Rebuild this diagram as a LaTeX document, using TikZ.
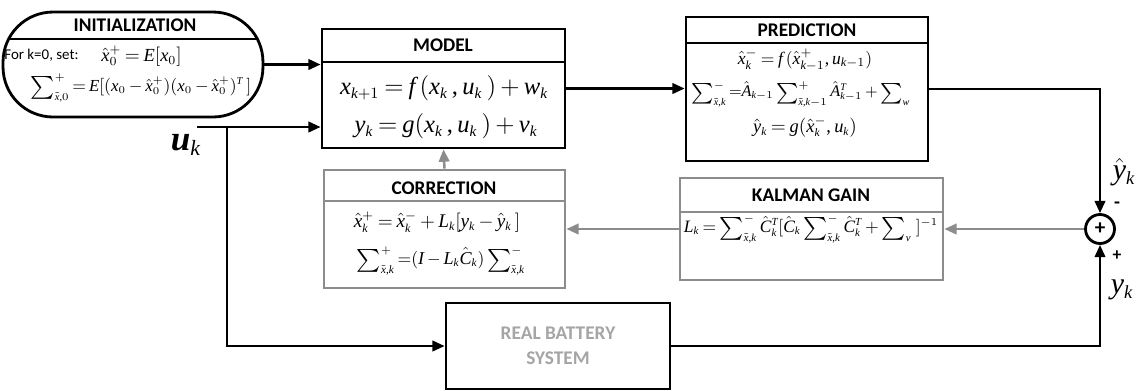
\documentclass[tikz,border=0pt]{standalone}
\usepackage{amsmath}
\usepackage{graphicx}
\usepackage{fontspec}
\setmainfont{Liberation Serif}
\newfontfamily\carl{Carlito}
\newfontfamily\libser[NFSSFamily=libser]{Liberation Serif}
\DeclareSymbolFont{letters}{TU}{libser}{m}{it}
\SetSymbolFont{letters}{bold}{TU}{libser}{b}{it}
\AtBeginDocument{\mathcode`\,="602C}
\renewcommand\defaultscriptratio{.62}
\newcommand\Sum{\mathop{\raisebox{-.3ex}{\scalebox{1.3}{$\textstyle\sum$}}}\nolimits}
\newcommand\eqsp{\thickmuskip=3.5mu plus 1mu\medmuskip=3mu plus 1mu}
\usetikzlibrary{arrows.meta,calc}
\definecolor{boxgray}{RGB}{140,140,140}
\definecolor{txtgray}{RGB}{165,165,165}
\begin{document}
\begin{tikzpicture}[x=0.02cm,y=-0.02cm,
  bbox/.style={draw=black, line width=1.6pt, inner sep=0pt},
  gbox/.style={draw=boxgray, line width=1.6pt, inner sep=0pt},
  ttl/.style={font=\carl\bfseries\fontsize{11}{13}\selectfont, inner sep=0pt},
  eq/.style={inner sep=0pt},
  arr/.style={line width=1.4pt, -{Triangle[length=7pt,width=6pt]}},
  garr/.style={line width=1.4pt, draw=boxgray, -{Triangle[length=7pt,width=6pt]}, boxgray}]
\useasboundingbox (0,0) rectangle (1143,390);

% boxes
\node[bbox, rounded corners=1cm, minimum width=5.2cm, minimum height=2.1cm] (init) at (133,64.5) {};
\node[bbox, minimum width=4.86cm, minimum height=2.38cm] (model) at (443.5,88.5) {};
\node[bbox, minimum width=4.84cm, minimum height=2.88cm] (pred) at (807,89) {};
\node[gbox, minimum width=4.82cm, minimum height=2.36cm] (corr) at (444.5,229) {};
\node[gbox, minimum width=5.26cm, minimum height=2.04cm] (kal) at (811.5,229) {};
\node[bbox, minimum width=4.48cm, minimum height=1.72cm] (batt) at (558,346) {};
\node[draw, circle, line width=1.6pt, minimum size=0.58cm, inner sep=0pt, font=\carl\bfseries\fontsize{12}{12}\selectfont] (sum) at (1100,229) {+};

% dividers
\draw[line width=1pt] (9,39) -- (257,39);
\draw[line width=1pt] (model.west |- 0,62) -- (model.east |- 0,62);
\draw[line width=1pt] (pred.west |- 0,43) -- (pred.east |- 0,43);
\draw[line width=1pt, boxgray] (corr.west |- 0,201) -- (corr.east |- 0,201);
\draw[line width=1pt, boxgray] (kal.west |- 0,212) -- (kal.east |- 0,212);

% titles
\node[ttl] (initT) at (135,25) {INITIALIZATION};
\node[ttl] (modelT) at (443,45) {MODEL};
\node[ttl] (predT) at (807,30) {PREDICTION};
\node[ttl] (corrT) at (444,188) {CORRECTION};
\node[ttl] (kalT) at (811,195) {KALMAN GAIN};
\node[ttl, text=txtgray, align=center, font=\carl\bfseries\fontsize{11}{14.5}\selectfont] (battT) at (558,346) {REAL BATTERY\\SYSTEM};

% init contents
\node[anchor=west, inner sep=0pt, font=\carl\fontsize{8.5}{10}\selectfont] (initF) at (4,55) {For k=0, set:};
\node[eq, anchor=west, font=\fontsize{10.5}{12}\selectfont\eqsp] (initE1) at (101,56) {$\hat{x}_0^+ = E[x_0]$};
\node[eq, font=\fontsize{9.6}{11}\selectfont\eqsp] (initE2) at (141,88) {$\Sum^+_{\tilde{x},0}{=}\,E[(x_0 -\hat{x}_0^+)(x_0 - \hat{x}_0^+)^T\,]$};

% model contents
\node[eq, font=\fontsize{14}{16}\selectfont\eqsp] (modelE1) at (444,88) {$x_{k+1} = f\,(x_k\,,u_k\,)+w_k$};
\node[eq, font=\fontsize{14}{16}\selectfont\eqsp] (modelE2) at (446,126) {$y_k = g(x_k\,,u_k\,)+v_k$};

% prediction contents
\node[eq, font=\fontsize{10}{12}\selectfont\eqsp] (predE1) at (805,60) {$\hat{x}_k^- = f\,(\hat{x}_{k-1}^+,u_{k-1})$};
\node[eq, font=\fontsize{9.3}{11}\selectfont\eqsp] (predE2) at (801,94) {$\Sum^-_{\tilde{x},k}{=}\hat{A}_{k-1}\Sum^+_{\tilde{x},k-1}\hat{A}^T_{k-1}+\Sum_w$};
\node[eq, font=\fontsize{10.5}{12}\selectfont\eqsp] (predE3) at (805,127) {$\hat{y}_k = g(\hat{x}_k^-,u_k)$};

% correction contents
\node[eq, font=\fontsize{11}{13}\selectfont\eqsp] (corrE1) at (437,222) {$\hat{x}_k^+ = \hat{x}_k^- + L_k[y_k - \hat{y}_k\,]$};
\node[eq, font=\fontsize{10.3}{12}\selectfont\eqsp] (corrE2) at (441,261) {$\Sum^+_{\tilde{x},k}{=}(I - L_k\hat{C}_k)\Sum^-_{\tilde{x},k}$};

% kalman contents
\node[eq, font=\fontsize{9.9}{12}\selectfont\eqsp] (kalE) at (811,229) {$L_k = \Sum^-_{\tilde{x},k}\hat{C}_k^T[\hat{C}_k\Sum^-_{\tilde{x},k}\hat{C}_k^T + \Sum_v\ ]^{-1}$};

% signal labels
\node[inner sep=0pt, font=\fontsize{20}{22}\selectfont] (uk) at (186,145) {$\boldsymbol{u}_k$};
\node[inner sep=0pt, font=\fontsize{17}{19}\selectfont] (yhat) at (1124,172) {$\hat{y}_k$};
\node[inner sep=0pt, font=\fontsize{17}{19}\selectfont] (yk) at (1122,290) {$y_k$};
\node[inner sep=0pt, font=\carl\bfseries\fontsize{11}{12}\selectfont] (minus) at (1117,205) {-};
\node[inner sep=0pt, font=\carl\bfseries\fontsize{10}{12}\selectfont] (plus) at (1117,256) {+};

% connectors
\coordinate (ustart) at (197,127);
\coordinate (ubranch) at (227,127);
\draw[arr] (init.east) -- (init.east -| model.west);
\draw[arr] (ustart) -- (ustart -| model.west);
\draw[arr] (ubranch) |- (batt.west);
\draw[arr] (model.east) -- (model.east -| pred.west);
\draw[arr] (pred.east) -| (sum.north);
\draw[arr] (batt.east) -| (sum.south);
\draw[garr] (sum.west) -- (kal.east |- sum.west);
\draw[garr] (kal.west |- sum.west) -- (corr.east |- sum.west);
\draw[garr] (corr.north) -- (model.south);
\end{tikzpicture}
\end{document}
